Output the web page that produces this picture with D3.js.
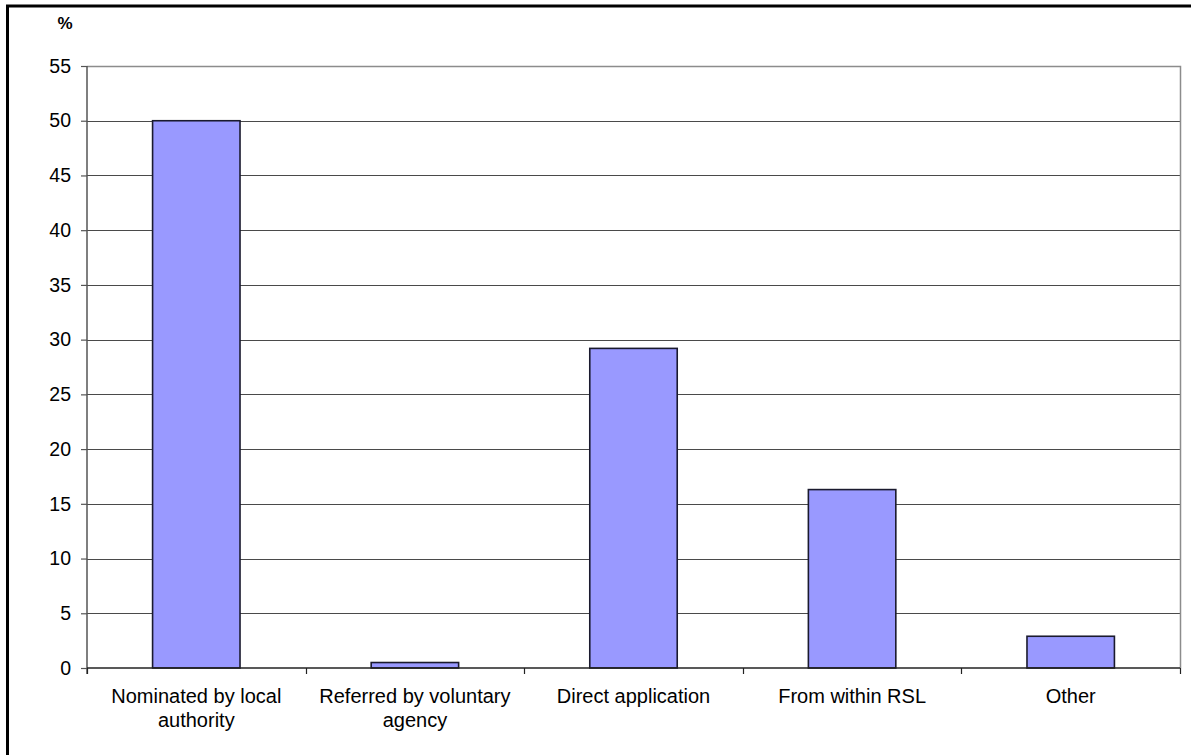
<!DOCTYPE html>
<html>
<head>
<meta charset="utf-8">
<script src="https://cdn.jsdelivr.net/npm/d3@7"></script>
<style>
  html, body { margin: 0; padding: 0; background: #fff; }
  svg { display: block; font-family: "Liberation Sans", Arial, sans-serif; }
</style>
</head>
<body>
<svg id="chart" width="1191" height="755"></svg>
<script>
// Referral routes into housing (percentage of lettings)
const categories = [
  ["Nominated by local", "authority"],
  ["Referred by voluntary", "agency"],
  ["Direct application"],
  ["From within RSL"],
  ["Other"]
];
const values = [50.0, 0.5, 29.2, 16.3, 2.9];
const yTicks = [0, 5, 10, 15, 20, 25, 30, 35, 40, 45, 50, 55];
const yLabel = "%";

const svg = d3.select("#chart");
const W = 1191, H = 755;
const plot = { left: 87, right: 1180, top: 66, bottom: 668 };

// Outer frame (extends past the bottom and right edges of the canvas)
svg.append("rect")
  .attr("x", 7.5).attr("y", 6)
  .attr("width", W + 20).attr("height", H)
  .attr("fill", "none").attr("stroke", "#000").attr("stroke-width", 3);

const labels = categories.map(c => c.join(" "));
const x = d3.scaleBand().domain(labels).range([plot.left, plot.right]).paddingInner(0).paddingOuter(0);
const y = d3.scaleLinear().domain([0, 55]).range([plot.bottom, plot.top]);

// Horizontal gridlines
svg.append("g")
  .selectAll("line")
  .data(yTicks.filter(t => t > 0 && t < 55))
  .join("line")
  .attr("x1", plot.left).attr("x2", plot.right)
  .attr("y1", d => Math.round(y(d)) + 0.5).attr("y2", d => Math.round(y(d)) + 0.5)
  .attr("stroke", "#4a4a4a").attr("stroke-width", 1.2);

// Plot area border (top and right)
svg.append("path")
  .attr("d", `M${plot.left},${Math.round(y(55)) + 0.5}H${plot.right + 0.5}V${plot.bottom}`)
  .attr("fill", "none").attr("stroke", "#8c8c8c").attr("stroke-width", 1.5);

// Bars
const barW = x.bandwidth() * 0.4;
svg.append("g")
  .selectAll("rect")
  .data(values)
  .join("rect")
  .attr("x", (d, i) => x(labels[i]) + (x.bandwidth() - barW) / 2)
  .attr("y", d => y(d))
  .attr("width", barW)
  .attr("height", d => y(0) - y(d))
  .attr("fill", "#9999ff")
  .attr("stroke", "#1a1a2e").attr("stroke-width", 1.6);

// Y axis
const yAxis = svg.append("g")
  .attr("transform", `translate(${plot.left},0)`)
  .call(d3.axisLeft(y).tickValues(yTicks).tickSize(6).tickPadding(10).tickFormat(d3.format("d")));
yAxis.select(".domain").attr("stroke", "#555").attr("stroke-width", 1.5)
  .attr("d", `M0,${plot.top}V${plot.bottom + 6}`);
yAxis.selectAll(".tick line").attr("stroke", "#555").attr("stroke-width", 1.2);
yAxis.selectAll(".tick text")
  .attr("font-size", 19.5).attr("fill", "#000")
  .attr("font-family", "'Liberation Sans', Arial, sans-serif");

// X axis
const xAxis = svg.append("g")
  .attr("transform", `translate(0,${plot.bottom})`)
  .call(d3.axisBottom(x).tickSize(0).tickFormat(""));
xAxis.select(".domain").attr("stroke", "#222").attr("stroke-width", 1.5)
  .attr("d", `M${plot.left},0H${plot.right}`);
xAxis.selectAll(".tick").remove();

// Category tick marks at band boundaries
svg.append("g")
  .selectAll("line")
  .data(labels.map(l => x(l)).concat([plot.right]))
  .join("line")
  .attr("x1", d => Math.round(d) + 0.5).attr("x2", d => Math.round(d) + 0.5)
  .attr("y1", plot.bottom).attr("y2", plot.bottom + 6)
  .attr("stroke", "#222").attr("stroke-width", 1.2);

// Category labels (wrapped)
const catText = svg.append("g")
  .selectAll("text")
  .data(categories)
  .join("text")
  .attr("x", (d, i) => x(labels[i]) + x.bandwidth() / 2)
  .attr("y", 703)
  .attr("text-anchor", "middle")
  .attr("font-size", 20)
  .attr("fill", "#000");
catText.selectAll("tspan")
  .data(d => d)
  .join("tspan")
  .attr("x", function () { return d3.select(this.parentNode).attr("x"); })
  .attr("dy", (d, i) => i === 0 ? 0 : 24)
  .text(d => d);

// Axis unit label
svg.append("text")
  .attr("x", 65).attr("y", 29)
  .attr("text-anchor", "middle")
  .attr("font-size", 17).attr("font-weight", "bold")
  .attr("fill", "#000")
  .text(yLabel);
</script>
</body>
</html>
